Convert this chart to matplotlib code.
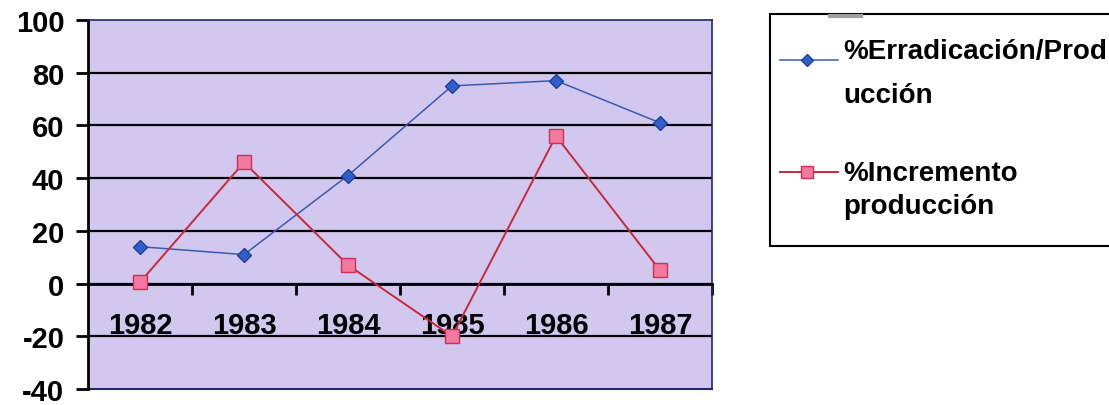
import matplotlib
matplotlib.use('Agg')
import matplotlib.pyplot as plt
from matplotlib.lines import Line2D
from matplotlib.patches import Rectangle

years = ['1982', '1983', '1984', '1985', '1986', '1987']
erradicacion = [14, 11, 41, 75, 77, 61]
incremento = [0.5, 46, 7, -20, 56, 5]
yticks = [-40, -20, 0, 20, 40, 60, 80, 100]
legend_lines = [['%Erradicación/Prod', 'ucción'], ['%Incremento', 'producción']]

plt.rcParams['font.family'] = ['Liberation Sans', 'DejaVu Sans']
plt.rcParams['font.weight'] = 'bold'

W, H = 1109, 406
fig = plt.figure(figsize=(W / 100, H / 100), dpi=100)
ax = fig.add_axes([88 / W, 1 - 390 / H, 624 / W, (390 - 21) / H])

x = list(range(len(years)))
ax.set_xlim(-0.5, len(years) - 0.5)
ax.set_ylim(yticks[0], yticks[-1])
ax.set_facecolor('#D2C7EF')

for v in yticks[1:-1]:
    ax.axhline(v, color='black', lw=1.6, zorder=1)
ax.axhline(yticks[0], color='#1F2A6A', lw=1.5, zorder=1, clip_on=False)

blue_kw = dict(color='#3A5BB0', lw=1.1, marker='D', ms=7, mfc='#2F5FC8', mec='#1F3F9A')
red_kw = dict(color='#C8283C', lw=1.4, marker='s', ms=10, mfc='#F27AA0', mec='#D03050')
ax.plot(x, erradicacion, zorder=3, **blue_kw)
ax.plot(x, incremento, zorder=3, **red_kw)

for s in ['top', 'right']:
    ax.spines[s].set_color('#1F2A6A')
    ax.spines[s].set_linewidth(1.2)
ax.spines['left'].set_color('black')
ax.spines['left'].set_linewidth(2)
ax.spines['bottom'].set_position(('data', 0))
ax.spines['bottom'].set_color('black')
ax.spines['bottom'].set_linewidth(2)

ax.set_yticks(yticks)
ax.set_yticklabels([str(v) for v in yticks], fontsize=21, fontweight='bold')
ax.tick_params(axis='y', direction='out', length=9, width=2, pad=8)

ax.set_xticks(x)
ax.set_xticklabels(years, fontsize=21, fontweight='bold')
ax.set_xticks([i + 0.5 for i in x], minor=True)
ax.tick_params(axis='x', which='major', length=0, pad=20)
ax.tick_params(axis='x', which='minor', direction='out', length=8, width=2)

# legend (manual, in figure pixel coordinates)
def fx(px):
    return px / W

def fy(py):
    return 1 - py / H

fig.add_artist(Rectangle((fx(770), fy(247)), fx(1120) - fx(770), fy(15) - fy(247),
                         transform=fig.transFigure, facecolor='white', edgecolor='black',
                         lw=1.5, clip_on=False, zorder=5))
fig.add_artist(Line2D([fx(830), fx(861)], [fy(17), fy(17)], transform=fig.transFigure,
                      color='#A0A0A0', lw=3, zorder=6))

handles = [(blue_kw, 61, [59, 103]), (red_kw, 173, [181, 214])]
for (kw, hy, bases), lines in zip(handles, legend_lines):
    fig.add_artist(Line2D([fx(780), fx(838)], [fy(hy), fy(hy)], transform=fig.transFigure,
                          color=kw['color'], lw=kw['lw'], zorder=6))
    fig.add_artist(Line2D([fx(807)], [fy(hy)], transform=fig.transFigure, marker=kw['marker'],
                          ms=kw['ms'] * 0.9, mfc=kw['mfc'], mec=kw['mec'], lw=0, zorder=7))
    for txt, b in zip(lines, bases):
        fig.text(fx(843), fy(b), txt, fontsize=20, fontweight='bold', va='baseline',
                 ha='left', zorder=7)

fig.savefig('out.png', dpi=100, facecolor='white')
